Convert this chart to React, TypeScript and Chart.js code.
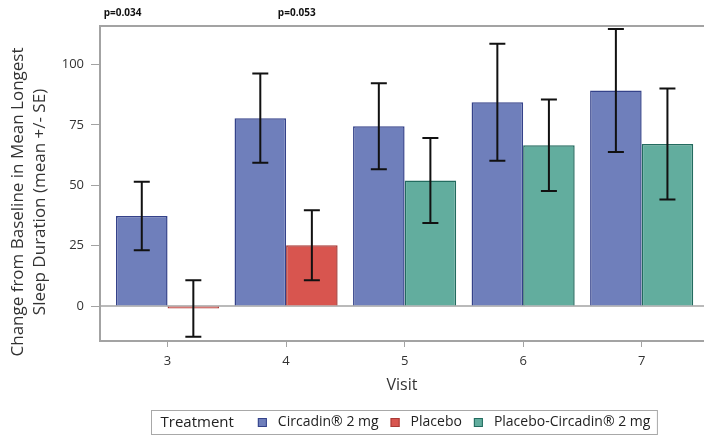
import React, { useEffect, useRef } from 'react';
import { Chart, registerables } from 'chart.js';

Chart.register(...registerables);

const visits = [3, 4, 5, 6, 7];
const circadinMean = [37.3, 77.8, 74.5, 84.4, 89.3];
const circadinSE = [14.2, 18.5, 17.8, 24.2, 25.5];
const placeboMean = [-1.0, 25.2, null, null, null];
const placeboSE = [11.7, 14.5, null, null, null];
const placeboCircadinMean = [null, null, 52.0, 66.6, 67.1];
const placeboCircadinSE = [null, null, 17.6, 19.0, 23.0];
const yTicks = [0, 25, 50, 75, 100];
const pValueLabels = ['p=0.034', 'p=0.053'];
const pValueAt = [2.62, 4.09];
const seriesNames = ['Circadin® 2 mg', 'Placebo', 'Placebo-Circadin® 2 mg'];
const legendTitle = 'Treatment';
const xTitle = 'Visit';
const yTitle = ['Change from Baseline in Mean Longest', 'Sleep Duration (mean +/- SE)'];

const FONT = "'Open Sans', 'DejaVu Sans', sans-serif";
const fills = ['#6f7fbb', '#d8554f', '#62ad9e'];
const borders = ['#34428a', '#a83a36', '#236b5f'];
const AXIS = '#a3a3a3';

const decorations = {
  id: 'decorations',
  beforeDatasetsDraw(chart: any) {
    const { ctx, chartArea } = chart;
    const y = chart.scales.y;
    ctx.save();
    ctx.strokeStyle = AXIS;
    ctx.lineWidth = 1.5;
    const y0 = y.getPixelForValue(0);
    ctx.beginPath();
    ctx.moveTo(chartArea.left, y0);
    ctx.lineTo(chartArea.right, y0);
    ctx.stroke();
    ctx.lineWidth = 2;
    ctx.beginPath();
    ctx.moveTo(chartArea.left - 1, chartArea.top);
    ctx.lineTo(chartArea.right, chartArea.top);
    ctx.stroke();
    ctx.restore();
  },
  afterDatasetsDraw(chart: any) {
    const { ctx } = chart;
    const y = chart.scales.y;
    ctx.save();
    ctx.strokeStyle = '#111';
    ctx.lineWidth = 2;
    chart.data.datasets.forEach((ds: any, di: number) => {
      const meta = chart.getDatasetMeta(di);
      meta.data.forEach((el: any, i: number) => {
        const m = ds.data[i];
        const e = ds.errors[i];
        if (m == null || e == null) return;
        const x = el.x;
        const top = y.getPixelForValue(m + e);
        const bot = y.getPixelForValue(m - e);
        ctx.beginPath();
        ctx.moveTo(x, top);
        ctx.lineTo(x, bot);
        ctx.moveTo(x - 8, top);
        ctx.lineTo(x + 8, top);
        ctx.moveTo(x - 8, bot);
        ctx.lineTo(x + 8, bot);
        ctx.stroke();
      });
    });
    ctx.restore();
  },
  afterDraw(chart: any) {
    const { ctx, chartArea } = chart;
    const x = chart.scales.x;
    ctx.save();
    // p-values
    ctx.fillStyle = '#111';
    ctx.font = `bold 10px ${FONT}`;
    ctx.textAlign = 'center';
    ctx.textBaseline = 'middle';
    pValueLabels.forEach((t, i) => {
      ctx.fillText(t, x.getPixelForValue(pValueAt[i]), 13);
    });
    // y title
    ctx.fillStyle = '#333';
    ctx.font = `17px ${FONT}`;
    ctx.save();
    ctx.translate(18, 202);
    ctx.rotate(-Math.PI / 2);
    ctx.fillText(yTitle[0], 0, 0);
    ctx.fillText(yTitle[1], 0, 22);
    ctx.restore();
    // legend
    ctx.textAlign = 'left';
    ctx.font = `15px ${FONT}`;
    const titleW = ctx.measureText(legendTitle).width;
    ctx.font = `14px ${FONT}`;
    const widths = seriesNames.map((s) => ctx.measureText(s).width);
    const pad = 9;
    const sq = 9;
    let total = pad + titleW + 24;
    widths.forEach((w, i) => {
      total += sq + 11 + w + (i < widths.length - 1 ? 12 : 0);
    });
    total += 7;
    const left = Math.round((chartArea.left + chartArea.right) / 2 - total / 2) + 2.5;
    const top = 410.5;
    const h = 24;
    const cy = top + h / 2;
    ctx.strokeStyle = '#a8a8a8';
    ctx.lineWidth = 1;
    ctx.strokeRect(left, top, total, h);
    let cx = left + pad;
    ctx.fillStyle = '#222';
    ctx.font = `15px ${FONT}`;
    ctx.fillText(legendTitle, cx, cy);
    cx += titleW + 24;
    ctx.font = `14px ${FONT}`;
    seriesNames.forEach((s, i) => {
      ctx.fillStyle = fills[i];
      ctx.fillRect(cx, cy - sq / 2, sq, sq);
      ctx.strokeStyle = borders[i];
      ctx.strokeRect(cx + 0.5, cy - sq / 2 + 0.5, sq - 1, sq - 1);
      cx += sq + 11;
      ctx.fillStyle = '#222';
      ctx.fillText(s, cx, cy);
      cx += widths[i] + 12;
    });
    ctx.restore();
  },
};

export default function App() {
  const ref = useRef<HTMLCanvasElement | null>(null);
  useEffect(() => {
    if (!ref.current) return;
    const chart = new Chart(ref.current, {
      type: 'bar',
      data: {
        labels: visits,
        datasets: [
          { label: seriesNames[0], data: circadinMean, errors: circadinSE, backgroundColor: fills[0], borderColor: borders[0], borderWidth: 1.5 } as any,
          { label: seriesNames[1], data: placeboMean, errors: placeboSE, backgroundColor: fills[1], borderColor: borders[1], borderWidth: 1.5 } as any,
          { label: seriesNames[2], data: placeboCircadinMean, errors: placeboCircadinSE, backgroundColor: fills[2], borderColor: borders[2], borderWidth: 1.5 } as any,
        ],
      },
      options: {
        animation: false,
        responsive: true,
        maintainAspectRatio: false,
        skipNull: true,
        categoryPercentage: 0.87,
        barPercentage: 1.0,
        layout: { padding: { top: 26, left: 0, right: 0, bottom: 0 } },
        plugins: { legend: { display: false }, tooltip: { enabled: false } },
        scales: {
          x: {
            type: 'linear',
            min: 2.43,
            max: 7.526,
            offset: false,
            afterBuildTicks: (s: any) => { s.ticks = visits.map((v) => ({ value: v })); },
            afterFit: (s: any) => { s.height = 94; },
            grid: { display: true, drawOnChartArea: false, drawTicks: true, tickLength: 6, color: AXIS, offset: false },
            border: { display: true, color: AXIS, width: 2 },
            ticks: { font: { family: FONT, size: 13 }, color: '#333', padding: 6, maxRotation: 0 },
            title: { display: true, text: xTitle, font: { family: FONT, size: 16 }, color: '#333', padding: { top: 0, bottom: 40 } },
          },
          y: {
            type: 'linear',
            min: -14.5,
            max: 116,
            afterBuildTicks: (s: any) => { s.ticks = yTicks.map((v) => ({ value: v })); },
            afterFit: (s: any) => { s.width = 100; },
            grid: { display: true, drawOnChartArea: false, drawTicks: true, tickLength: 9, color: AXIS },
            border: { display: true, color: AXIS, width: 2 },
            ticks: { font: { family: FONT, size: 13 }, color: '#333', padding: 7 },
          },
        },
      } as any,
      plugins: [decorations],
    });
    return () => chart.destroy();
  }, []);
  return (
    <div style={{ position: 'fixed', left: 0, top: 0, width: 704, height: 435, background: '#fff' }}>
      <canvas ref={ref} />
    </div>
  );
}
